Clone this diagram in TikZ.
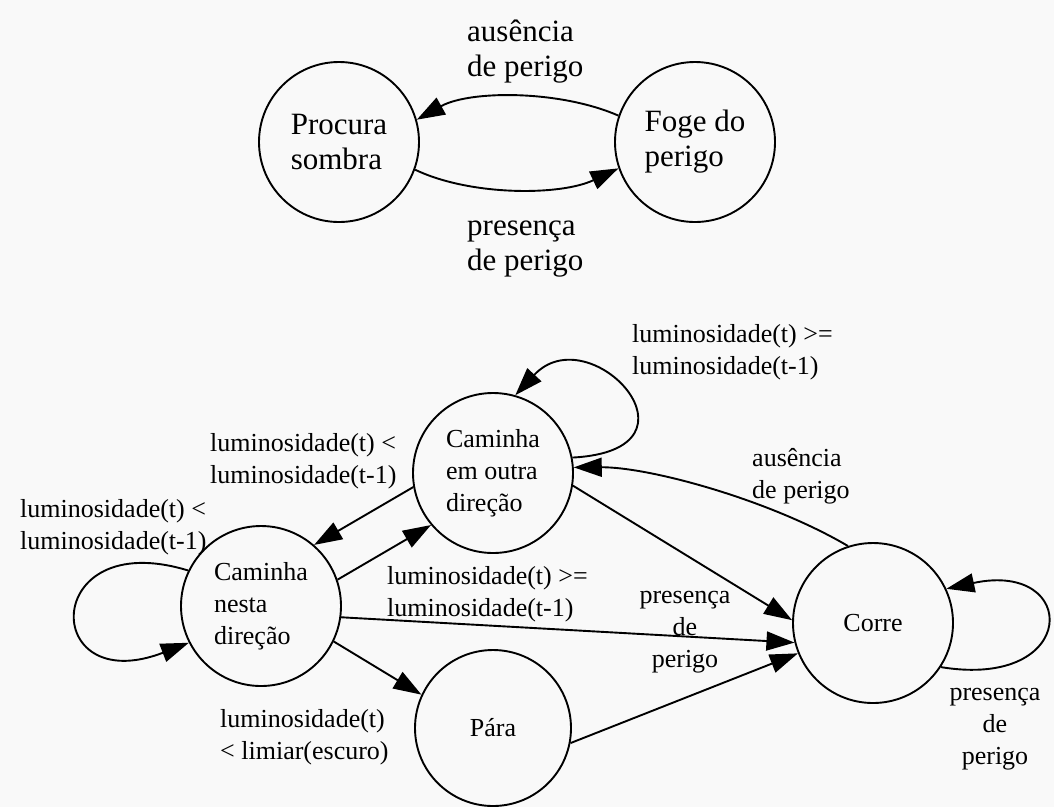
\documentclass[tikz,border=0pt]{standalone}
\usepackage{fontspec}
\setmainfont{Liberation Serif}
\usetikzlibrary{arrows.meta}
\definecolor{paper}{RGB}{249,249,249}
\begin{document}
\begin{tikzpicture}[x=1pt,y=-1pt,
  state/.style={circle,draw,line width=1.9pt,minimum size=160pt,inner sep=0pt,align=left},
  big/.style={font=\fontsize{31}{35}\selectfont},
  small/.style={font=\fontsize{26}{32}\selectfont},
  arr/.style={line width=1.9pt,-{Triangle[length=28pt,width=19pt]}},
  lbl/.style={inner sep=0pt,align=left,anchor=west},
  clbl/.style={inner sep=0pt,align=center},
]
\fill[paper] (0,0) rectangle (1054,807);
\useasboundingbox (0,0) rectangle (1054,807);

% upper machine
\node[state,big] (procura) at (339,142) {Procura\\sombra};
\node[state,big] (foge) at (695,142) {Foge do\\perigo};

\draw[arr] (foge.161) .. controls (560,90) and (470,90) .. (procura.16);
\draw[arr] (procura.-20) .. controls (470,196) and (560,196) .. (foge.199);

\node[lbl,big] (l1) at (467,52) {ausência\\de perigo};
\node[lbl,big] (l2) at (467,249) {presença\\de perigo};

% lower machine
\node[state,small] (outra) at (493,473) {Caminha\\em outra\\direção};
\node[state,small] (nesta) at (261,606) {Caminha\\nesta\\direção};
\node[state,small,minimum size=156pt] (para) at (493,728) {Pára};
\node[state,small] (corre) at (873,623) {Corre};

% self loops
\draw[arr] (outra.11) .. controls (715,450) and (590,315) .. (outra.74);
\draw[arr] (nesta.154) .. controls (40,525) and (40,700) .. (nesta.207);
\draw[arr] (corre.-33) .. controls (1080,690) and (1080,560) .. (corre.25);

% transitions
\draw[arr] (corre.108) .. controls (770,500) and (650,467) .. (outra.4);
\draw[arr] (outra.-9) -- (corre.178);
\draw[arr] (nesta.-8) -- (corre.194);
\draw[arr] (para.-11) -- (corre.202);
\draw[arr] (nesta.-26) -- (para.155);
\draw[arr] (nesta.19) -- (outra.220);
\draw[arr] (outra.190) -- (nesta.49);

% transition labels
\node[lbl,small] (m1) at (632,352) {luminosidade(t) >=\\luminosidade(t-1)};
\node[lbl,small] (m2) at (210,461) {luminosidade(t) <\\luminosidade(t-1)};
\node[lbl,small] (m3) at (20,527) {luminosidade(t) <\\luminosidade(t-1)};
\node[lbl,small] (m4) at (387,594) {luminosidade(t) >=\\luminosidade(t-1)};
\node[lbl,small] (m5) at (752,476) {ausência\\de perigo};
\node[clbl,small] (m6) at (685,632) {presença\\de\\perigo};
\node[lbl,small] (m7) at (220,737) {luminosidade(t)\\< limiar(escuro)};
\node[clbl,small] (m8) at (995,729) {presença\\de\\perigo};
\end{tikzpicture}
\end{document}
